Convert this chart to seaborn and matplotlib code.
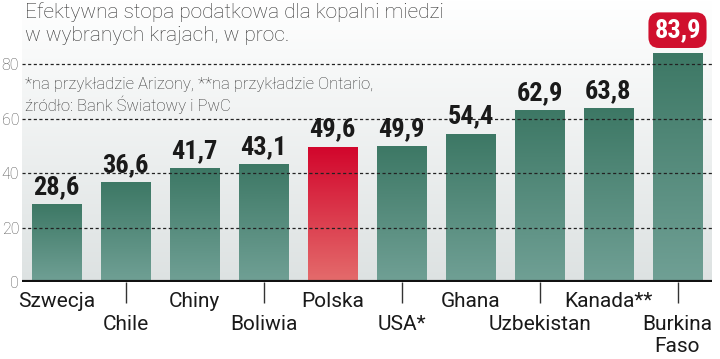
import numpy as np
import pandas as pd
import matplotlib
matplotlib.use("Agg")
import matplotlib.pyplot as plt
import seaborn as sns
from matplotlib.colors import LinearSegmentedColormap

countries = ["Szwecja", "Chile", "Chiny", "Boliwia", "Polska",
             "USA*", "Ghana", "Uzbekistan", "Kanada**", "Burkina\nFaso"]
rates = [28.6, 36.6, 41.7, 43.1, 49.6, 49.9, 54.4, 62.9, 63.8, 83.9]
highlight = "Polska"
y_ticks = [0, 20, 40, 60, 80]

title = "Efektywna stopa podatkowa dla kopalni miedzi\nw wybranych krajach, w proc."
note = "*na przykładzie Arizony, **na przykładzie Ontario,\nźródło: Bank Światowy i PwC"

df = pd.DataFrame({"kraj": countries, "stopa": rates})

sns.set_theme(style="white")
plt.rcParams["font.family"] = ["Roboto", "DejaVu Sans"]
num_font = ["Roboto Condensed", "DejaVu Sans"]

fig = plt.figure(figsize=(7.2, 3.59), dpi=100)
ax = fig.add_axes([22 / 720, 77 / 359, 690 / 720, 282 / 359])

sns.barplot(data=df, x="kraj", y="stopa", width=0.72, color="#4a8270",
            ax=ax, zorder=2)

green = LinearSegmentedColormap.from_list("g", ["#70a095", "#3d7865"])
red = LinearSegmentedColormap.from_list("r", ["#e46c6c", "#d2062c"])
grad = np.linspace(0, 1, 256).reshape(-1, 1)

# gradient fill for each bar
for patch, name in zip(ax.patches, countries):
    x, w, h = patch.get_x(), patch.get_width(), patch.get_height()
    cmap = red if name == highlight else green
    ax.imshow(grad, extent=[x, x + w, 0, h], origin="lower", aspect="auto",
              cmap=cmap, zorder=2)
    patch.set_visible(False)

# plot background: white fading to light gray
bg = LinearSegmentedColormap.from_list("bg", ["#dde2e2", "#ffffff"])
ax.imshow(grad, extent=[0, 1, 0, 1], origin="lower", aspect="auto", cmap=bg,
          transform=ax.transAxes, zorder=0)

ax.set_xlim(-0.5, len(countries) - 0.5)
ax.set_ylim(0, 103.7)

for v in y_ticks[1:]:
    ax.axhline(v, color="#222222", lw=0.9, ls=(0, (2.5, 2)), zorder=3)
ax.axhline(0, color="#111111", lw=3, zorder=4)

# value labels
for i, (name, v) in enumerate(zip(countries, rates)):
    if i == len(countries) - 1:
        continue
    ax.text(i, v + 2, f"{v:.1f}".replace(".", ","), ha="center", va="bottom",
            fontsize=19, fontweight="bold", color="#1a1a1a",
            family=num_font, zorder=5)

imax = int(np.argmax(rates))
ax.text(imax, 92.6, f"{rates[imax]:.1f}".replace(".", ","), ha="center",
        va="center", fontsize=19, fontweight="bold", color="white",
        family=num_font, zorder=6,
        bbox=dict(boxstyle="round,pad=0.22,rounding_size=0.4",
                  fc="#d0102e", ec="none"))

# x labels on two rows: even below the axis, odd below the separator ticks
even = list(range(0, len(countries), 2))
odd = list(range(1, len(countries), 2))
ax.set_xticks(even)
ax.set_xticklabels([countries[i] for i in even], fontsize=15,
                   color="#1a1a1a")
ax.set_xticks(odd, minor=True)
ax.set_xticklabels([countries[i] for i in odd], minor=True, fontsize=15,
                   color="#1a1a1a", linespacing=1.2)
ax.tick_params(axis="x", which="major", length=0, pad=7)
ax.tick_params(axis="x", which="minor", length=15, width=1, color="#333333",
               direction="out", bottom=True, pad=9)
ax.set_xlabel("")
ax.set_ylabel("")
ax.set_yticks(y_ticks)
ax.set_yticklabels([str(t) for t in y_ticks], fontsize=11.5, color="#555555",
                   fontweight="light")
ax.tick_params(axis="y", length=0, pad=2)
for s in ax.spines.values():
    s.set_visible(False)

fig.text(25 / 720, 1 - 2 / 359, title, ha="left", va="top", fontsize=15,
         fontweight="light", color="#333333", linespacing=1.25)
fig.text(25 / 720, 1 - 77 / 359, note, ha="left", va="top", fontsize=12,
         fontweight="light", color="#333333", linespacing=1.25)

fig.savefig("out.png", dpi=100)
